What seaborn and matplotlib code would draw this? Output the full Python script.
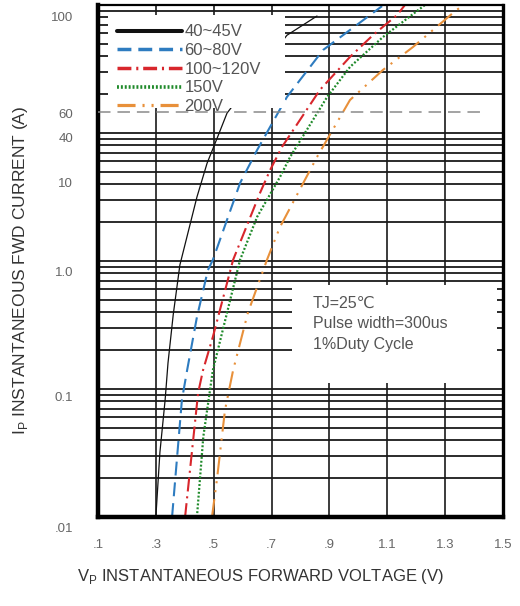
import numpy as np
import matplotlib
matplotlib.use("Agg")
import matplotlib.pyplot as plt
import seaborn as sns
from matplotlib.ticker import FixedLocator, FixedFormatter, LogLocator, NullFormatter
from matplotlib.transforms import ScaledTranslation
from matplotlib.patches import Rectangle

# ---------------- data ----------------
labels = ["40~45V", "60~80V", "100~120V", "150V", "200V"]
v_40 = [0.300, 0.314, 0.332, 0.342, 0.360, 0.383, 0.442, 0.477, 0.515, 0.546, 0.753, 0.857]
i_40 = [0.01, 0.032, 0.082, 0.16, 0.38, 0.93, 3.16, 5.8, 9.5, 14.3, 58, 82]
v_60 = [0.356, 0.390, 0.408, 0.442, 0.480, 0.497, 0.591, 0.650, 0.753, 0.878, 0.971, 1.082]
i_60 = [0.01, 0.082, 0.14, 0.365, 0.85, 1.02, 4.06, 7.36, 19.1, 44.5, 63.8, 98]
v_100 = [0.401, 0.446, 0.463, 0.497, 0.567, 0.660, 0.695, 0.736, 0.867, 0.971, 1.051, 1.134, 1.161]
i_100 = [0.01, 0.093, 0.14, 0.255, 1.02, 3.40, 5.14, 7.78, 21.7, 39.3, 58.3, 83.5, 100]
v_150 = [0.442, 0.464, 0.497, 0.591, 0.650, 0.729, 0.764, 0.892, 0.971, 1.085, 1.230]
i_150 = [0.01, 0.0423, 0.14, 1.02, 2.21, 4.53, 6.49, 19.1, 32.8, 56.2, 100]
v_200 = [0.494, 0.511, 0.539, 0.567, 0.618, 0.684, 0.729, 0.857, 0.971, 1.085, 1.189, 1.327, 1.362]
i_200 = [0.01, 0.0195, 0.0685, 0.14, 0.393, 1.02, 1.84, 6.49, 18.1, 31.1, 47, 86.6, 100]

x_ticks = [0.1, 0.3, 0.5, 0.7, 0.9, 1.1, 1.3, 1.5]
x_tick_labels = [".1", ".3", ".5", ".7", ".9", "1.1", "1.3", "1.5"]
# y tick labels as printed (placed where they appear on the sheet)
y_tick_pos = [0.01, 0.0866, 0.835, 4.14, 9.14, 14.3, 80.6]
y_tick_labels = [".01", "0.1", "1.0", "10", "40", "60", "100"]

ref_level = 14.6          # the dashed "60 A" line
ref_span = [0.1, 1.427]

note = "TJ=25\u2103\nPulse width=300us\n1%Duty Cycle"

# ---------------- style ----------------
sns.set_style("white")
plt.rcParams["font.family"] = ["Liberation Sans", "DejaVu Sans"]
plt.rcParams["lines.scale_dashes"] = False
plt.rcParams["mathtext.fontset"] = "custom"
plt.rcParams["mathtext.rm"] = "Liberation Sans"

fig = plt.figure(figsize=(5.2, 6.06), dpi=100)
ax = fig.add_axes([98 / 520, 1 - 517 / 606, 405 / 520, 512 / 606])

series = [
    (labels[0], v_40, i_40, "#111111", "-", 0.9),
    (labels[1], v_60, i_60, "#2e7cc0", (0, (10, 5)), 1.5),
    (labels[2], v_100, i_100, "#d8262c", (0, (10, 3.5, 1.5, 3.5)), 1.5),
    (labels[3], v_150, i_150, "#1f8a2a", (0, (1.4, 1.4)), 1.6),
    (labels[4], v_200, i_200, "#e8903a", (0, (13, 5, 1.5, 5, 1.5, 5)), 1.5),
]
handles = []
for lab, vx, iy, col, ls, lw in series:
    sns.lineplot(x=vx, y=iy, ax=ax, color=col, linewidth=lw, estimator=None,
                 sort=False, zorder=2)
    ln = ax.lines[-1]
    ln.set_linestyle(ls)
    ln.set_label(lab)
    handles.append(ln)

ax.set_yscale("log")
ax.set_xlim(0.1, 1.5)
ax.set_ylim(0.01, 100)

ax.xaxis.set_major_locator(FixedLocator(x_ticks))
ax.xaxis.set_major_formatter(FixedFormatter(x_tick_labels))
ax.yaxis.set_major_locator(FixedLocator(y_tick_pos))
ax.yaxis.set_major_formatter(FixedFormatter(y_tick_labels))
ax.yaxis.set_minor_locator(LogLocator(base=10, subs=np.arange(1, 10), numticks=60))
ax.yaxis.set_minor_formatter(NullFormatter())

ax.grid(False)
ax.grid(True, which="minor", axis="y", color="#1a1a1a", lw=1.3)
ax.grid(True, which="major", axis="x", color="#1a1a1a", lw=1.2)
ax.set_axisbelow(True)
ax.tick_params(which="both", length=0)
ax.tick_params(axis="y", which="major", pad=18, labelsize=9.5, labelcolor="#666666")
ax.tick_params(axis="x", which="major", pad=16, labelsize=9.5, labelcolor="#666666")

for lab in ax.get_yticklabels():
    if lab.get_text() == ".01":
        lab.set_transform(lab.get_transform() + ScaledTranslation(0, -0.10, fig.dpi_scale_trans))

for side, w in [("left", 3.2), ("bottom", 3.2), ("right", 2.4), ("top", 1.6)]:
    ax.spines[side].set_visible(True)
    ax.spines[side].set_color("black")
    ax.spines[side].set_linewidth(w)

# white panels of the legend and the note
ax.add_patch(Rectangle((0.025, 0.799), 0.437, 0.181, transform=ax.transAxes,
                       facecolor="white", edgecolor="none", zorder=3))
ax.add_patch(Rectangle((0.479, 0.262), 0.506, 0.191, transform=ax.transAxes,
                       facecolor="white", edgecolor="none", zorder=3))

ax.hlines(ref_level, ref_span[0], ref_span[1], colors="#8a8a8a", lw=1.1,
          linestyles=[(0, (9, 5))], zorder=4)

ax.text(0.531, 0.432, note, transform=ax.transAxes, ha="left", va="top",
        fontsize=11.5, color="#555555", linespacing=1.45, zorder=5)

leg = ax.legend(handles=handles, loc="upper left", bbox_to_anchor=(0.047, 0.962),
                frameon=False, fontsize=12, handlelength=3.9, handletextpad=0.15,
                labelspacing=0.22, borderpad=0, borderaxespad=0)
for t in leg.get_texts():
    t.set_color("#555555")
for h, w in zip(leg.legend_handles, [2.9, 2.5, 2.5, 2.6, 2.3]):
    h.set_linewidth(w)
leg.set_zorder(6)

ax.set_xlabel(r"V$_\mathregular{P}$ INSTANTANEOUS FORWARD VOLTAGE (V)",
              fontsize=12, color="#333333")
ax.set_ylabel(r"I$_\mathregular{P}$ INSTANTANEOUS FWD CURRENT (A)",
              fontsize=12.5, color="#333333")
ax.xaxis.set_label_coords(0.40, -0.097)
ax.yaxis.set_label_coords(-0.168, 0.482)

fig.savefig("out.png", dpi=100)
